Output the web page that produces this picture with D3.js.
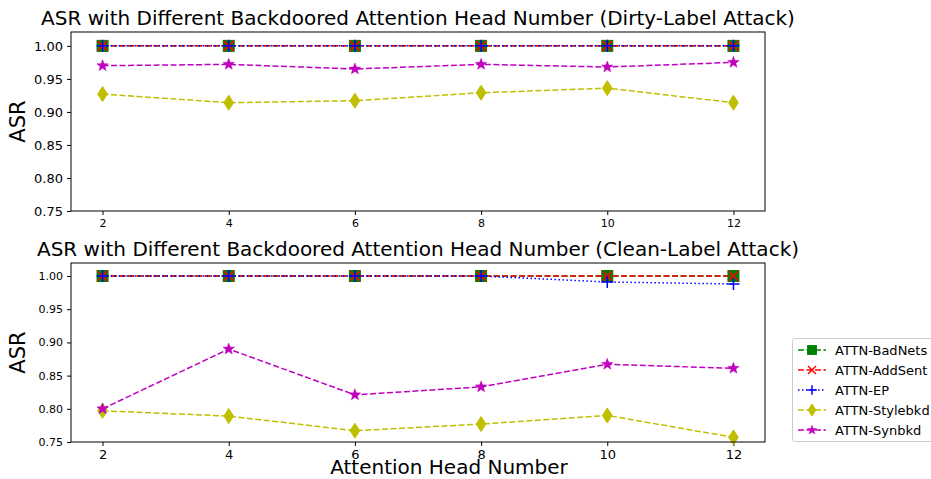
<!DOCTYPE html>
<html>
<head>
<meta charset="utf-8">
<script src="https://cdn.jsdelivr.net/npm/d3@7"></script>
<style>
  body { margin: 0; background: #fff; }
  svg { font-family: "DejaVu Sans", sans-serif; }
</style>
</head>
<body>
<svg id="chart" width="931" height="479"></svg>
<script>
var heads = [2, 4, 6, 8, 10, 12];
var seriesNames = ["ATTN-BadNets", "ATTN-AddSent", "ATTN-EP", "ATTN-Stylebkd", "ATTN-Synbkd"];
var yTicks = [0.75, 0.80, 0.85, 0.90, 0.95, 1.00];

// dirty-label attack
var dirtyBadNets = [1.0, 1.0, 1.0, 1.0, 1.0, 1.0];
var dirtyAddSent = [1.0, 1.0, 1.0, 1.0, 1.0, 1.0];
var dirtyEP = [1.0, 1.0, 1.0, 1.0, 1.0, 1.0];
var dirtyStylebkd = [0.927, 0.914, 0.917, 0.929, 0.936, 0.914];
var dirtySynbkd = [0.970, 0.972, 0.965, 0.972, 0.968, 0.975];

// clean-label attack
var cleanBadNets = [1.0, 1.0, 1.0, 1.0, 1.0, 1.0];
var cleanAddSent = [1.0, 1.0, 1.0, 1.0, 1.0, 1.0];
var cleanEP = [1.0, 1.0, 1.0, 1.0, 0.991, 0.988];
var cleanStylebkd = [0.797, 0.789, 0.767, 0.777, 0.790, 0.757];
var cleanSynbkd = [0.800, 0.890, 0.821, 0.833, 0.867, 0.861];

var styles = [
  {color: "#008000", dash: "6,2.5", marker: "square"},
  {color: "#ff0000", dash: "6,2.5", marker: "x"},
  {color: "#0000ff", dash: "1.5,2.5", marker: "plus"},
  {color: "#bfbf00", dash: "6,2.5", marker: "diamond"},
  {color: "#bf00bf", dash: "6,2.5", marker: "star"}
];

var svg = d3.select("#chart");

function drawMarker(g, type, color, x, y, s) {
  s = s || 1;
  if (type == "square") {
    g.append("rect").attr("x", x - 5.5 * s).attr("y", y - 5.5 * s).attr("width", 11 * s).attr("height", 11 * s)
      .attr("fill", color).attr("stroke", color);
  } else if (type == "x") {
    g.append("path").attr("d", "M" + (x - 5 * s) + "," + (y - 5 * s) + "L" + (x + 5 * s) + "," + (y + 5 * s) + "M" + (x - 5 * s) + "," + (y + 5 * s) + "L" + (x + 5 * s) + "," + (y - 5 * s))
      .attr("stroke", color).attr("stroke-width", 1.5).attr("fill", "none");
  } else if (type == "plus") {
    g.append("path").attr("d", "M" + (x - 6 * s) + "," + y + "L" + (x + 6 * s) + "," + y + "M" + x + "," + (y - 6 * s) + "L" + x + "," + (y + 6 * s))
      .attr("stroke", color).attr("stroke-width", 1.5).attr("fill", "none");
  } else if (type == "diamond") {
    g.append("path").attr("d", "M" + x + "," + (y - 7.5 * s) + "L" + (x + 4.8 * s) + "," + y + "L" + x + "," + (y + 7.5 * s) + "L" + (x - 4.8 * s) + "," + y + "Z")
      .attr("fill", color).attr("stroke", color);
  } else if (type == "star") {
    var pts = [];
    for (var k = 0; k < 10; k++) {
      var r = (k % 2 == 0 ? 6 : 2.5) * s;
      var a = -Math.PI / 2 + k * Math.PI / 5;
      pts.push([x + r * Math.cos(a), y + r * Math.sin(a)]);
    }
    g.append("path").attr("d", "M" + pts.join("L") + "Z").attr("fill", color).attr("stroke", color).attr("stroke-width", 0.5);
  }
}

function drawPanel(opts) {
  var x = d3.scaleLinear().domain([1.5, 12.5]).range([opts.left, opts.right]);
  var y = d3.scaleLinear().domain([0.75, opts.ymax]).range([opts.bottom, opts.top]);

  svg.append("rect")
    .attr("x", opts.left).attr("y", opts.top)
    .attr("width", opts.right - opts.left).attr("height", opts.bottom - opts.top)
    .attr("fill", "#fff");

  var xAxis = svg.append("g")
    .attr("transform", "translate(0," + opts.bottom + ")")
    .call(d3.axisBottom(x).tickValues(heads).tickSizeInner(4).tickSizeOuter(0).tickPadding(4));
  xAxis.selectAll("text").attr("font-size", opts.xTickSize).attr("fill", "#000").attr("font-family", "DejaVu Sans");
  xAxis.select(".domain").remove();

  var yAxis = svg.append("g")
    .attr("transform", "translate(" + opts.left + ",0)")
    .call(d3.axisLeft(y).tickValues(yTicks).tickFormat(d3.format(".2f")).tickSizeInner(4).tickSizeOuter(0).tickPadding(4));
  yAxis.selectAll("text").attr("font-size", opts.yTickSize).attr("fill", "#000").attr("font-family", "DejaVu Sans");
  yAxis.select(".domain").remove();

  var line = d3.line().x(function (d, i) { return x(heads[i]); }).y(function (d) { return y(d); });

  opts.series.forEach(function (vals, si) {
    var st = styles[si];
    var g = svg.append("g");
    g.append("path").datum(vals).attr("d", line)
      .attr("fill", "none").attr("stroke", st.color).attr("stroke-width", 1.5)
      .attr("stroke-dasharray", st.dash);
    vals.forEach(function (v, i) {
      drawMarker(g, st.marker, st.color, x(heads[i]), y(v));
    });
  });

  svg.append("rect")
    .attr("x", opts.left).attr("y", opts.top)
    .attr("width", opts.right - opts.left).attr("height", opts.bottom - opts.top)
    .attr("fill", "none").attr("stroke", "#000").attr("stroke-width", 1);

  svg.append("text")
    .attr("x", (opts.left + opts.right) / 2).attr("y", opts.top - 7)
    .attr("text-anchor", "middle").attr("font-size", 20)
    .text(opts.title);

  svg.append("text")
    .attr("transform", "translate(" + 25 + "," + ((opts.top + opts.bottom) / 2) + ") rotate(-90)")
    .attr("text-anchor", "middle").attr("font-size", 21)
    .text("ASR");
}

drawPanel({
  left: 71, right: 765, top: 32, bottom: 211, ymax: 1.021,
  xTickSize: 11, yTickSize: 13,
  title: "ASR with Different Backdoored Attention Head Number (Dirty-Label Attack)",
  series: [dirtyBadNets, dirtyAddSent, dirtyEP, dirtyStylebkd, dirtySynbkd]
});

drawPanel({
  left: 71, right: 765, top: 263, bottom: 442, ymax: 1.0196,
  xTickSize: 13, yTickSize: 11,
  title: "ASR with Different Backdoored Attention Head Number (Clean-Label Attack)",
  series: [cleanBadNets, cleanAddSent, cleanEP, cleanStylebkd, cleanSynbkd]
});

svg.append("text")
  .attr("x", 449).attr("y", 474)
  .attr("text-anchor", "middle").attr("font-size", 20)
  .text("Attention Head Number");

// legend
var legend = svg.append("g");
legend.append("rect")
  .attr("x", 792.5).attr("y", 338.5).attr("width", 150).attr("height", 103).attr("rx", 3)
  .attr("fill", "#fff").attr("stroke", "#ccc");
seriesNames.forEach(function (name, i) {
  var st = styles[i];
  var ly = 350 + i * 20;
  legend.append("line").attr("x1", 798).attr("x2", 826).attr("y1", ly).attr("y2", ly)
    .attr("stroke", st.color).attr("stroke-width", 1.5).attr("stroke-dasharray", st.dash);
  drawMarker(legend, st.marker, st.color, 812, ly, 0.8);
  legend.append("text").attr("x", 835).attr("y", ly + 4.5).attr("font-size", 13).text(name);
});
</script>
</body>
</html>
